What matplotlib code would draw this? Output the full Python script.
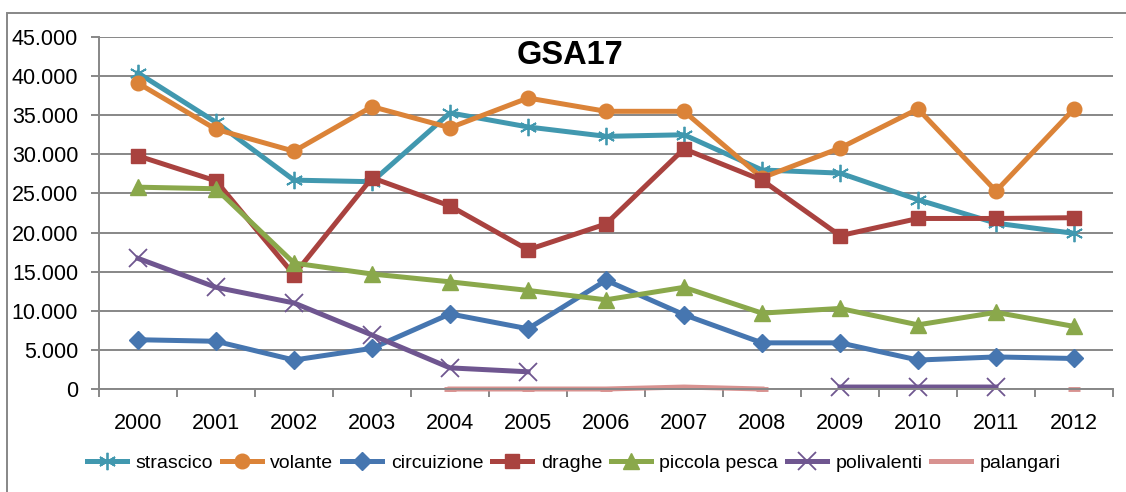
import numpy as np
import matplotlib
matplotlib.use("Agg")
import matplotlib.pyplot as plt
from matplotlib.patches import Rectangle
from matplotlib.ticker import FuncFormatter, FixedLocator

nan = np.nan
years = ["2000", "2001", "2002", "2003", "2004", "2005", "2006",
         "2007", "2008", "2009", "2010", "2011", "2012"]

strascico = [40400, 34100, 26700, 26500, 35300, 33500, 32300, 32500, 28000, 27600, 24200, 21200, 19900]
volante = [39100, 33200, 30400, 36100, 33400, 37200, 35500, 35500, 27000, 30800, 35800, 25300, 35800]
circuizione = [6300, 6100, 3700, 5200, 9600, 7700, 13900, 9500, 5900, 5900, 3700, 4100, 3900]
draghe = [29800, 26600, 14600, 27000, 23400, 17800, 21100, 30700, 26700, 19600, 21800, 21800, 21900]
piccola_pesca = [25800, 25600, 16100, 14700, 13700, 12600, 11400, 13000, 9700, 10300, 8200, 9800, 8000]
polivalenti = [16700, 13000, 11000, 6900, 2700, 2200, nan, nan, nan, 250, 250, 250, nan]
palangari = [nan, nan, nan, nan, 0, 0, 0, 250, 0, nan, nan, nan, 0]

series = [
    ("strascico", strascico, "#4198AF", (6, 2, 0)),
    ("volante", volante, "#DB8338", "o"),
    ("circuizione", circuizione, "#4676B0", "D"),
    ("draghe", draghe, "#A9423F", "s"),
    ("piccola pesca", piccola_pesca, "#8AA84B", "^"),
    ("polivalenti", polivalenti, "#6F5690", "x"),
    ("palangari", palangari, "#D89290", "_"),
]

FONT = ["Liberation Sans Narrow", "Liberation Sans", "DejaVu Sans"]
GRID = "#878787"

fig = plt.figure(figsize=(11.26, 4.92), dpi=100)
ax = fig.add_axes([99 / 1126, 1 - 389 / 492, (1113 - 99) / 1126, (389 - 37) / 492])

x = np.arange(len(years))
for name, vals, color, marker in series:
    kw = dict(color=color, lw=3.6, marker=marker, label=name, clip_on=False)
    if marker in ("x", (6, 2, 0)):
        kw.update(ms=12.5, mew=1.3, mec=color)
    elif marker == "_":
        kw.update(ms=9, mew=3.5)
    elif marker == "^":
        kw.update(ms=11)
    elif marker == "D":
        kw.update(ms=9.5)
    else:
        kw.update(ms=10.5)
    ax.plot(x, vals, **kw)

ax.set_xlim(-0.5, len(years) - 0.5)
ax.set_ylim(0, 45000)
ax.set_yticks(np.arange(0, 45001, 5000))
ax.yaxis.set_major_formatter(FuncFormatter(
    lambda v, p: "0" if v == 0 else f"{int(v):,}".replace(",", ".")))
ax.grid(axis="y", color=GRID, lw=1.4)
ax.set_axisbelow(True)

ax.set_xticks(x)
ax.set_xticklabels(years)
ax.xaxis.set_minor_locator(FixedLocator(np.arange(-0.5, len(years), 1.0)))
ax.tick_params(axis="x", which="major", length=0, pad=17)
ax.tick_params(axis="x", which="minor", length=6, width=1.4, color=GRID)
ax.tick_params(axis="y", length=6, width=1.4, color=GRID, pad=9)
for lab in ax.get_xticklabels() + ax.get_yticklabels():
    lab.set_family(FONT)
    lab.set_fontsize(15.5)

for s in ("top", "right"):
    ax.spines[s].set_visible(False)
for s in ("left", "bottom"):
    ax.spines[s].set_color(GRID)
    ax.spines[s].set_linewidth(1.4)

fig.text(570 / 1126, 1 - 56 / 492, "GSA17", ha="center", va="center",
         fontsize=23.5, fontweight="bold", family=FONT)

leg = fig.legend(loc="center", bbox_to_anchor=(574 / 1126, 1 - 463 / 492),
                 ncol=7, frameon=False, handlelength=2.05, handletextpad=0.45,
                 columnspacing=0.45, prop={"family": FONT, "size": 14})

fig.patches.append(Rectangle((7 / 1126, -0.2), 1.2, 1 - 13 / 492 + 0.2,
                             transform=fig.transFigure, fill=False,
                             edgecolor=GRID, lw=1.4))

fig.savefig("out.png", dpi=100)
